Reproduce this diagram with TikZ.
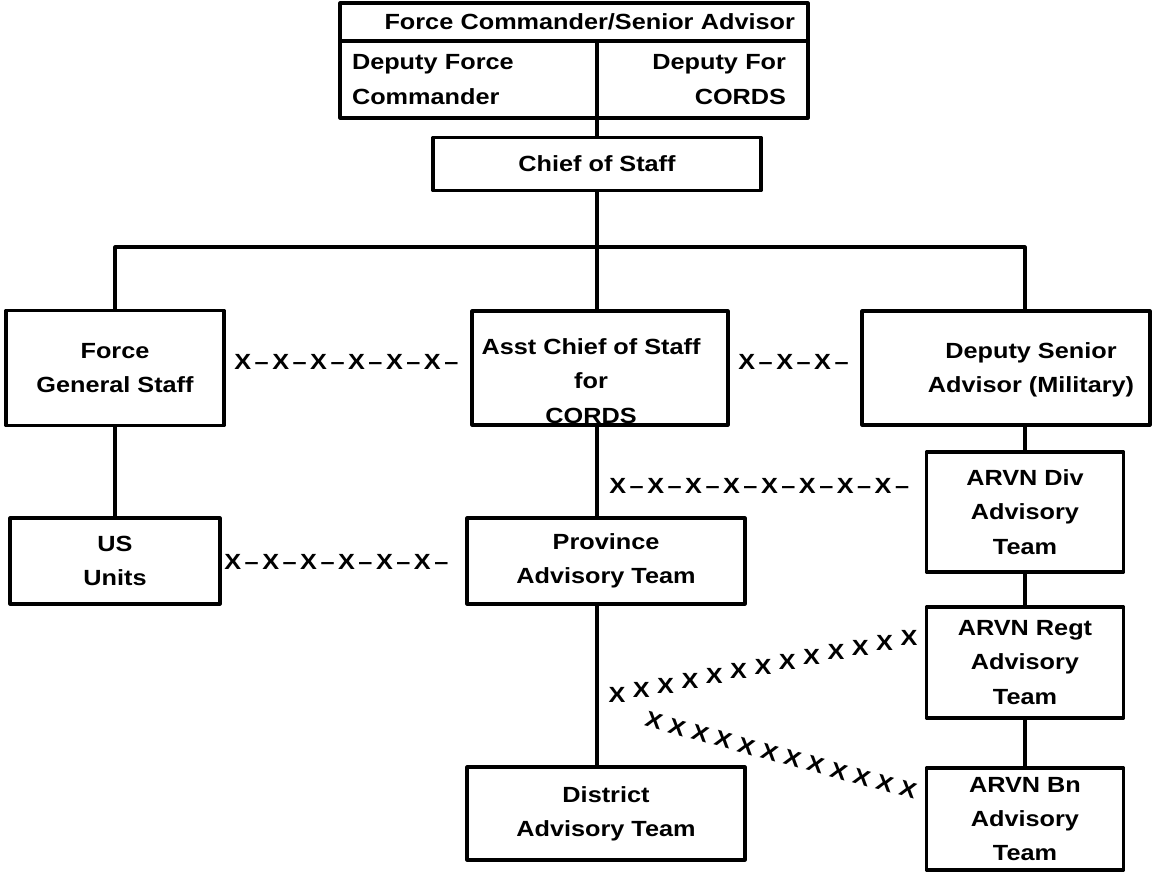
\documentclass[tikz,border=0pt]{standalone}
\usepackage{fontspec}
\setmainfont{Liberation Sans}[FakeStretch=1.15]
\usetikzlibrary{calc}
\newcommand{\chartfont}{\fontsize{12.5}{19.5}\selectfont\bfseries}
\newcommand{\xlink}{X\kern2pt\textendash\kern2pt}
\newcommand{\xchain}[1]{\foreach \k in {1,...,#1}{\xlink}}
\tikzset{
  box/.style={draw, line width=1.8pt, inner sep=0pt, align=center, font=\chartfont},
  wh/.style 2 args={minimum width=#1*0.02cm, minimum height=#2*0.02cm},
  link/.style={line width=1.8pt},
  xtext/.style={font=\chartfont, inner sep=0pt},
}
\begin{document}
\begin{tikzpicture}[x=0.02cm, y=-0.02cm, line join=round]
\useasboundingbox (0,0) rectangle (1154,873);
% top block
\node[box, wh={468}{38}, text width=8.84cm, inner xsep=0.26cm, align=right] (fc) at (574,22) {Force Commander/Senior Advisor};
\node[box, wh={257}{77}, text width=4.66cm, inner xsep=0.24cm, align=left] (dfc) at (468.5,79.5) {Deputy Force\\Commander};
\node[box, wh={211}{77}, text width=3.34cm, inner xsep=0.44cm, align=right] (dcd) at (702.5,79.5) {Deputy For\\CORDS};
\node[box, wh={328}{53}] (cos) at (597,164) {Chief of Staff};
% middle row
\node[box, wh={218}{115}] (fgs) at (115,368) {Force\\General Staff};
\node[box, wh={256}{114}] (acs) at (600,368) {};
\node[xtext, align=center] (acst) at (591,381) {Asst Chief of Staff\\for\\CORDS};
\node[box, wh={288}{114}] (dsa) at (1006,368) {};
\node[xtext, align=center] (dsat) at (1031,370) {Deputy Senior\\Advisor (Military)};
% lower rows
\node[box, wh={210}{86}] (us) at (115,561) {US\\Units};
\node[box, wh={278}{86}] (pat) at (606,561) {Province\\Advisory Team};
\node[box, wh={278}{93}] (dat) at (606,813.5) {District\\Advisory Team};
\node[box, wh={197}{120}] (div) at (1025,512) {ARVN Div\\Advisory\\Team};
\node[box, wh={197}{111}] (regt) at (1025,662.5) {ARVN Regt\\Advisory\\Team};
\node[box, wh={197}{102}] (bn) at (1025,819) {ARVN Bn\\Advisory\\Team};
% command lines
\coordinate (spine) at (597,247);
\coordinate (busr) at (1025,247);
\draw[link] (cos.north |- dfc.south) -- (cos.north);
\draw[link] (cos.south) -- (spine |- acs.north);
\draw[link] (fgs.north) |- (busr) -- (busr |- dsa.north);
\draw[link] (fgs.south) -- (us.north);
\draw[link] (spine |- acs.south) -- (spine |- pat.north);
\draw[link] (spine |- pat.south) -- (spine |- dat.north);
\draw[link] (div.north |- dsa.south) -- (div.north);
\draw[link] (div.south) -- (regt.north);
\draw[link] (regt.south) -- (bn.north);
% coordination chains
\node[xtext, anchor=west] (gsx) at (234,362) {\xchain{6}};
\node[xtext, anchor=west] (dsx) at (738,362) {\xchain{3}};
\node[xtext, anchor=west] (divx) at (609,486) {\xchain{8}};
\node[xtext, anchor=west] (usx) at (224,562) {\xchain{6}};
\coordinate (ua) at (617,695);
\coordinate (ub) at (909,638);
\coordinate (la) at (654,721);
\coordinate (lb) at (908,790);
\foreach \t in {0,...,12}
  \node[xtext] (u\t) at ($(ua)!\t/12!(ub)$) {X};
\foreach \t in {0,...,11}
  \node[xtext, rotate=-16] (l\t) at ($(la)!\t/11!(lb)$) {X};
\end{tikzpicture}
\end{document}
